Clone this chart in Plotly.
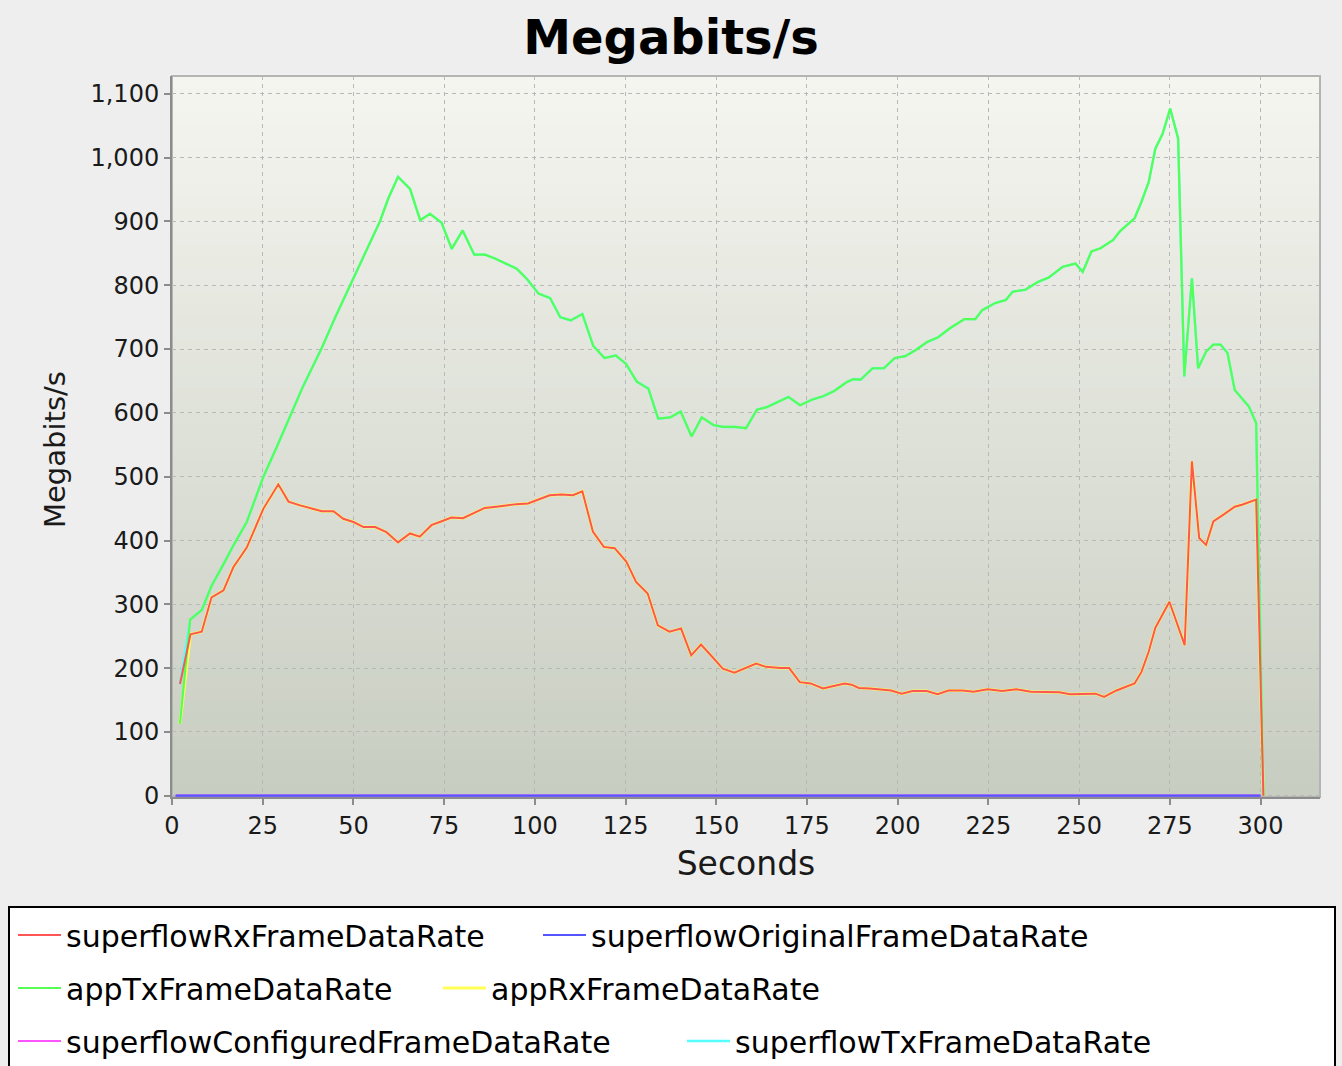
import plotly.graph_objects as go

# superflowRxFrameDataRate (red)
rx_secs = [2.2, 5.1, 8.2, 10.9, 14.2, 16.9, 20.6, 25.2, 29.3, 32.1, 35.3, 38.5, 41.3, 44.5,
           47.2, 50.0, 52.8, 56.0, 59.1, 62.3, 65.6, 68.3, 71.5, 74.7, 77.0, 80.2, 83.0,
           86.2, 89.4, 92.2, 94.9, 98.1, 100.4, 104.1, 107.3, 110.5, 113.1, 116.0, 119.0,
           122.0, 125.2, 127.9, 131.1, 133.9, 137.1, 140.3, 143.1, 145.8, 149.0, 151.8,
           155.0, 157.8, 161.0, 163.7, 167.6, 170.1, 173.0, 176.0, 179.4, 182.4, 185.4,
           187.3, 189.3, 192.3, 195.2, 198.2, 201.1, 204.1, 208.0, 211.0, 214.0, 217.9,
           220.9, 224.8, 228.8, 232.7, 236.7, 240.6, 244.6, 247.5, 251.5, 254.5, 256.9,
           260.3, 265.3, 267.2, 269.2, 271.0, 274.9, 279.1, 281.1, 283.1, 285.0, 287.0,
           289.9, 292.9, 294.9, 298.8, 300.8]
rx_rate = [175, 253, 257, 311, 322, 358, 389, 450, 488, 461, 455, 450, 446, 446,
           434, 429, 421, 421, 413, 397, 411, 406, 424, 431, 436, 435, 443,
           451, 453, 455, 457, 458, 463, 471, 472, 471, 477, 414, 390,
           388, 367, 335, 317, 267, 257, 262, 220, 237, 217, 199,
           193, 200, 207, 202, 200, 200, 178, 176, 168, 172, 176,
           174, 169, 168, 167, 165, 160, 164, 164, 159, 165, 165,
           163, 167, 164, 167, 163, 162, 162, 159, 160, 160, 155,
           165, 176, 194, 226, 263, 304, 236, 524, 404, 393, 430,
           441, 453, 456, 464, 0]

# appTxFrameDataRate (green)
tx_secs = [2.2, 5.0, 8.2, 10.9, 14.2, 16.9, 20.6, 25.2, 28.9, 31.2, 36.0, 41.3, 45.0, 49.1,
           53.0, 57.3, 59.6, 62.3, 65.6, 68.4, 71.1, 74.3, 77.1, 80.1, 83.3, 86.3, 89.0,
           91.8, 95.0, 97.8, 101.0, 104.2, 107.0, 109.9, 113.1, 116.1, 119.2, 122.3,
           125.1, 128.1, 131.3, 134.0, 137.3, 140.2, 143.2, 146.0, 149.2, 151.9, 155.2,
           158.2, 161.2, 163.9, 167.1, 169.9, 173.1, 176.5, 179.4, 182.4, 185.9, 187.8,
           189.8, 193.1, 196.2, 199.2, 202.1, 205.1, 208.1, 211.0, 214.5, 218.4, 221.4,
           223.3, 226.8, 229.8, 231.7, 235.2, 238.6, 241.6, 245.5, 249.0, 251.0, 253.4,
           255.9, 259.4, 261.3, 265.3, 267.2, 269.2, 271.0, 273.0, 275.1, 276.9, 277.3,
           279.0, 281.1, 282.8, 285.0, 287.0, 289.0, 290.9, 292.9, 296.8, 298.8, 300.8]
tx_rate = [113, 276, 291, 329, 363, 392, 429, 500, 547, 578, 640, 702, 750, 800,
           848, 900, 936, 970, 951, 902, 912, 898, 857, 886, 848, 848, 842,
           835, 826, 810, 787, 780, 750, 745, 755, 705, 686, 690,
           677, 649, 638, 591, 593, 602, 563, 593, 581, 578, 578,
           576, 605, 609, 618, 625, 612, 621, 626, 634, 648, 653,
           652, 670, 670, 686, 689, 699, 711, 718, 733, 747, 747,
           761, 772, 777, 790, 793, 805, 812, 829, 834, 821, 853,
           858, 871, 885, 905, 931, 962, 1014, 1037, 1077, 1037, 1030,
           657, 811, 670, 696, 707, 707, 694, 636, 610, 584, 0]

# appRx / superflowTx follow the two visible series, apart from their first sample
app_rx_rate = [113] + rx_rate[1:]
sf_tx_rate = [175] + tx_rate[1:]

# superflowOriginal / superflowConfigured stay at zero
zero_secs = [1, 300]
zero_rate = [0, 0]

FONT = "DejaVu Sans"
W, H = 1342, 1066
L, R, T, B = 172, 22, 76, 269
PW, PH = W - L - R, H - T - B


def px_x(px):
    return (px - L) / PW


def px_y(py):
    return (H - B - py) / PH


fig = go.Figure()

# JFreeChart draws series 0 last, so add them in reverse order
series = [
    ("superflowTxFrameDataRate", tx_secs, sf_tx_rate, "#55ffff", "legend6", 2.4),
    ("superflowConfiguredFrameDataRate", zero_secs, zero_rate, "#ff55ff", "legend5", 2.2),
    ("appRxFrameDataRate", rx_secs, app_rx_rate, "#ffff55", "legend4", 3.0),
    ("appTxFrameDataRate", tx_secs, tx_rate, "#55ff55", "legend3", 2.2),
    ("superflowOriginalFrameDataRate", zero_secs, zero_rate, "#5555ff", "legend2", 2.2),
    ("superflowRxFrameDataRate", rx_secs, rx_rate, "#ff5555", "legend", 2.0),
]
for name, xs, ys, color, leg, lw in series:
    fig.add_trace(go.Scatter(x=xs, y=ys, mode="lines", name=name, legend=leg,
                             line=dict(color=color, width=lw)))

# vertical gradient plot background
top_c = (244, 245, 239)
bot_c = (200, 205, 193)
n = 60
shapes = []
for i in range(n):
    f = i / (n - 1)
    c = tuple(round(bot_c[k] + (top_c[k] - bot_c[k]) * f) for k in range(3))
    shapes.append(dict(type="rect", xref="x domain", yref="y domain", x0=0, x1=1,
                       y0=i / n, y1=(i + 1) / n + 0.002, layer="below",
                       line=dict(width=0), fillcolor="rgb(%d,%d,%d)" % c))
# plot outline
shapes.append(dict(type="rect", xref="x domain", yref="y domain", x0=0, x1=1, y0=0, y1=1,
                   line=dict(color="#b4b4b4", width=2), layer="below"))
# legend box
shapes.append(dict(type="rect", xref="paper", yref="paper", x0=px_x(9), x1=px_x(1335),
                   y0=px_y(1075), y1=px_y(907), line=dict(color="black", width=2),
                   fillcolor="white", layer="below"))

# legend entries placed like the original flow layout
legend_pos = {
    "legend": (18, 935), "legend2": (543, 935),
    "legend3": (18, 988), "legend4": (443, 988),
    "legend5": (18, 1041), "legend6": (687, 1041),
}
legends = {}
for key, (lx, ly) in legend_pos.items():
    legends[key] = dict(x=px_x(lx - 5), y=px_y(ly), xanchor="left", yanchor="middle",
                        bgcolor="rgba(0,0,0,0)", borderwidth=0, itemwidth=43,
                        font=dict(family=FONT, size=30, color="black"))

axis_common = dict(
    showgrid=True, gridcolor="#b8b8b8", griddash="4px,4px", gridwidth=1,
    zeroline=False, showline=True, linecolor="#8c8c8c", linewidth=2,
    ticks="outside", ticklen=6, tickcolor="#8c8c8c", tickwidth=1.5,
    tickfont=dict(family=FONT, size=24, color="#1a1a1a"),
)

fig.update_layout(
    width=W, height=H,
    margin=dict(l=L, r=R, t=T, b=B, autoexpand=False),
    paper_bgcolor="#eeeeee", plot_bgcolor="#dfe2d8",
    title=dict(text="<b>Megabits/s</b>", x=0.5, xanchor="center", xref="container",
               y=1 - 37 / H, yanchor="middle",
               font=dict(family=FONT, size=48, color="black")),
    xaxis=dict(range=[0, 316.4], dtick=25, tick0=0,
               title=dict(text="Seconds", standoff=13,
                          font=dict(family=FONT, size=33, color="#1a1a1a")),
               **axis_common),
    yaxis=dict(range=[-2, 1128], dtick=100, tick0=0, tickformat=",d", **axis_common),
    shapes=shapes,
    showlegend=True,
    **legends,
)

# y axis title sits a little below the plot's middle in the original
fig.add_annotation(text="Megabits/s", textangle=-90, showarrow=False,
                   xref="paper", yref="paper", x=px_x(55), y=px_y(450),
                   xanchor="center", yanchor="middle",
                   font=dict(family=FONT, size=29, color="#1a1a1a"))

# drop the page's default 8px body margin so the figure sits at the window origin
fig.write_html("out.html", config={"displayModeBar": False},
               post_script="document.body.style.margin='0';")
